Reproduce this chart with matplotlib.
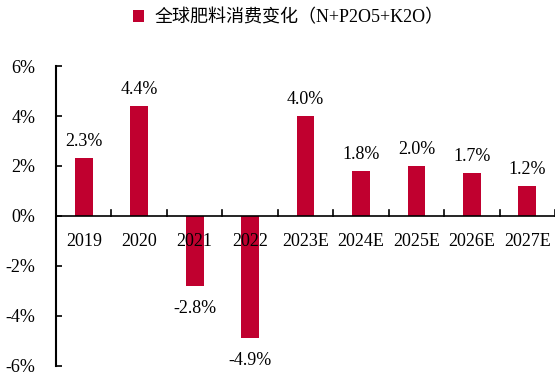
import matplotlib
matplotlib.use("Agg")
import matplotlib.pyplot as plt
from matplotlib.ticker import FuncFormatter

plt.rcParams['font.family'] = ['Liberation Serif', 'Noto Sans CJK SC']

years = ["2019", "2020", "2021", "2022", "2023E", "2024E", "2025E", "2026E", "2027E"]
change = [2.3, 4.4, -2.8, -4.9, 4.0, 1.8, 2.0, 1.7, 1.2]
series_name = "全球肥料消费变化（N+P2O5+K2O）"

red = '#C0002F'

fig = plt.figure(figsize=(5.55, 3.73), dpi=100)
ax = fig.add_axes([0.101, 0.019, 0.899, 0.804])

x = range(len(years))
bars = ax.bar(x, change, width=0.32, color=red, label=series_name, zorder=2)

ax.set_xlim(-0.5, len(years) - 0.5)
ax.set_ylim(-6, 6)
ax.set_yticks([-6, -4, -2, 0, 2, 4, 6])
ax.yaxis.set_major_formatter(FuncFormatter(lambda v, p: "%d%%" % v))
ax.tick_params(axis='y', direction='in', length=4, width=1.2, labelsize=13, pad=15)

for s in ['top', 'right', 'bottom']:
    ax.spines[s].set_visible(False)
ax.spines['left'].set_linewidth(1.5)
ax.set_xticks([])

# zero line with boundary ticks
ax.axhline(0, color='black', lw=1.2, zorder=3)
for b in range(1, len(years) + 1):
    ax.plot([b - 0.5, b - 0.5], [0, 0.24], color='black', lw=1.2, zorder=3,
            clip_on=False)

for i, y in enumerate(years):
    ax.annotate(y, (i, 0), xytext=(0, -12), textcoords='offset points',
                ha='center', va='top', fontsize=13)

for i, v in enumerate(change):
    if v >= 0:
        ax.annotate("%.1f%%" % v, (i, v), xytext=(0, 6), textcoords='offset points',
                    ha='center', va='bottom', fontsize=13)
    else:
        ax.annotate("%.1f%%" % v, (i, v), xytext=(0, -10), textcoords='offset points',
                    ha='center', va='top', fontsize=13)

leg = fig.legend(handles=[bars], labels=[series_name], loc='center',
                 bbox_to_anchor=(0.52, 0.952), frameon=False,
                 handlelength=0.6, handleheight=0.6, handletextpad=0.6,
                 prop={'family': ['Liberation Serif', 'Noto Sans CJK SC'], 'size': 13})

fig.savefig("out.png", dpi=100)
